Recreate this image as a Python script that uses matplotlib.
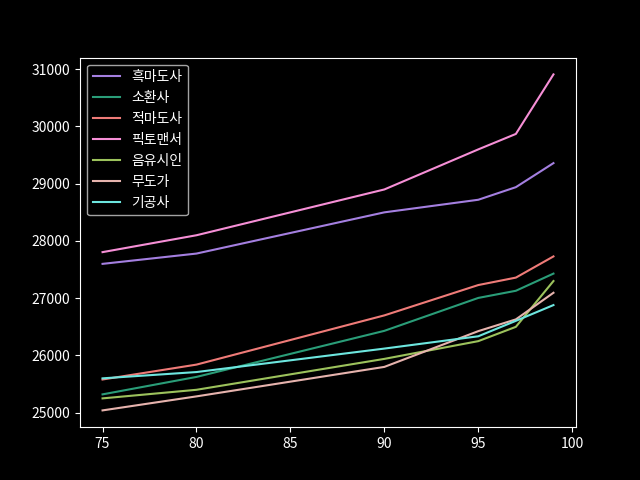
import numpy as np
import matplotlib
matplotlib.use('Agg')
import matplotlib.pyplot as plt

plt.style.use('dark_background')
plt.rcParams['font.family'] = ['Noto Sans CJK KR', 'DejaVu Sans']

# levels on the x axis
levels = [75, 80, 90, 95, 97, 99]

# values per job
blm = [27600, 27780, 28500, 28720, 28940, 29360]
smn = [25320, 25625, 26430, 27005, 27130, 27430]
rdm = [25580, 25840, 26700, 27230, 27360, 27730]
pct = [27805, 28100, 28900, 29600, 29870, 30910]
brd = [25250, 25400, 25940, 26250, 26500, 27300]
mnk = [25040, 25285, 25800, 26425, 26630, 27095]
mch = [25600, 25710, 26120, 26335, 26605, 26880]

names = ['흑마도사', '소환사', '적마도사', '픽토맨서', '음유시인', '무도가', '기공사']
colors = ['#a47fe0', '#2a9d78', '#ef7b78', '#f68fd6', '#9cc25c', '#e6b3ad', '#6de6df']
series = [blm, smn, rdm, pct, brd, mnk, mch]

fig, ax = plt.subplots(figsize=(6.4, 4.8), dpi=100)
for vals, name, c in zip(series, names, colors):
    ax.plot(levels, vals, color=c, linewidth=1.5, label=name)

ax.set_xticks([75, 80, 85, 90, 95, 100])
ax.set_yticks([25000, 26000, 27000, 28000, 29000, 30000, 31000])
ax.legend(loc='upper left')
plt.savefig('out.png')
